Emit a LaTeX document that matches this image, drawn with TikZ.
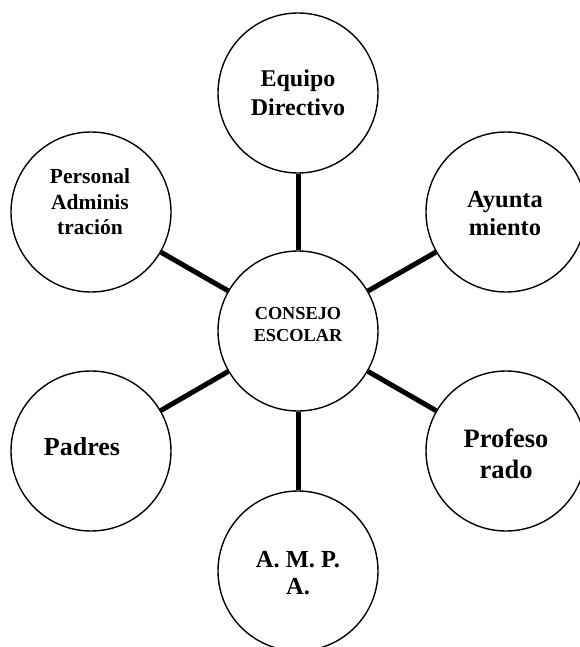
\documentclass[tikz,border=0pt]{standalone}
\usepackage{fontspec}
\setmainfont{Liberation Serif}
\begin{document}
\begin{tikzpicture}[x=1pt,y=-1pt,
  circ/.style={draw,circle,line width=1.4pt,minimum size=160pt,inner sep=0pt},
  txt/.style={align=center,font=\bfseries,inner sep=0pt},
  link/.style={line width=5pt}]
\useasboundingbox (0,0) rectangle (580,647);
\node[circ] (c) at (298,331) {};
\node[circ] (eq) at (298,93) {};
\node[circ] (per) at (91,212) {};
\node[circ] (ayu) at (506,212) {};
\node[circ] (pad) at (91,451) {};
\node[circ] (pro) at (506,451) {};
\node[circ] (amp) at (298,571) {};
\node[txt,font=\bfseries\fontsize{18.3}{22}\selectfont] (ct) at (298,325) {CONSEJO\\ESCOLAR};
\node[txt,font=\bfseries\fontsize{24}{29}\selectfont] (eqt) at (298,93) {Equipo\\Directivo};
\node[txt,font=\bfseries\fontsize{21.5}{25.5}\selectfont] (pert) at (90,202) {Personal\\Adminis\\tración};
\node[txt,font=\bfseries\fontsize{24.5}{28}\selectfont] (ayut) at (505,214) {Ayunta\\miento};
\node[txt,font=\bfseries\fontsize{26}{31}\selectfont] (padt) at (82,447) {Padres};
\node[txt,font=\bfseries\fontsize{26.5}{31}\selectfont] (prot) at (506,454) {Profeso\\rado};
\node[txt,font=\bfseries\fontsize{24.5}{27}\selectfont] (ampt) at (298,573) {A. M. P.\\A.};
\foreach \n in {eq,per,ayu,pad,pro,amp}
  \draw[link] (c) -- (\n);
\end{tikzpicture}
\end{document}
